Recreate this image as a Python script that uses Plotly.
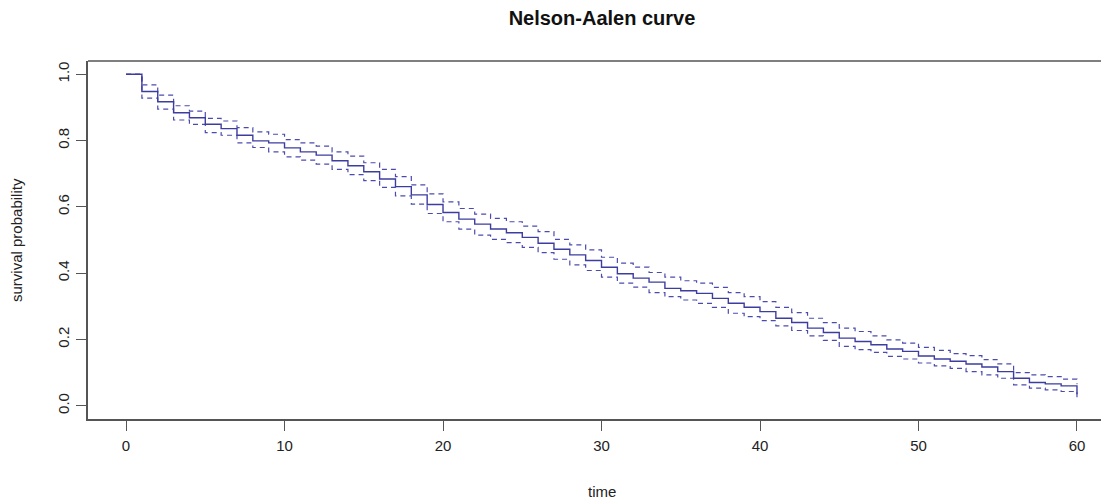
import plotly.graph_objects as go

# ---- data ----
times = list(range(0, 61))

surv = [1.000, 0.948, 0.917, 0.884, 0.869, 0.849, 0.836, 0.816, 0.799, 0.793,
        0.778, 0.766, 0.756, 0.739, 0.724, 0.706, 0.684, 0.661, 0.636, 0.607,
        0.583, 0.563, 0.548, 0.533, 0.522, 0.508, 0.490, 0.472, 0.455, 0.438,
        0.418, 0.398, 0.385, 0.373, 0.354, 0.347, 0.339, 0.324, 0.309, 0.297,
        0.284, 0.264, 0.251, 0.234, 0.221, 0.204, 0.194, 0.184, 0.171, 0.164,
        0.150, 0.141, 0.134, 0.126, 0.117, 0.103, 0.083, 0.070, 0.066, 0.060,
        0.035]

upper = [1.000, 0.968, 0.937, 0.905, 0.889, 0.867, 0.859, 0.839, 0.826, 0.819,
         0.803, 0.793, 0.783, 0.766, 0.753, 0.733, 0.713, 0.691, 0.666, 0.639,
         0.615, 0.595, 0.578, 0.565, 0.555, 0.542, 0.525, 0.502, 0.485, 0.470,
         0.448, 0.430, 0.418, 0.402, 0.388, 0.377, 0.370, 0.357, 0.341, 0.329,
         0.314, 0.297, 0.281, 0.264, 0.251, 0.234, 0.224, 0.211, 0.199, 0.189,
         0.176, 0.167, 0.157, 0.151, 0.139, 0.126, 0.100, 0.093, 0.088, 0.080,
         0.065]

lower = [1.000, 0.928, 0.895, 0.862, 0.849, 0.824, 0.816, 0.793, 0.779, 0.766,
         0.751, 0.741, 0.729, 0.713, 0.697, 0.679, 0.659, 0.633, 0.608, 0.580,
         0.555, 0.533, 0.515, 0.502, 0.492, 0.478, 0.462, 0.442, 0.425, 0.408,
         0.388, 0.370, 0.358, 0.341, 0.329, 0.319, 0.309, 0.297, 0.279, 0.269,
         0.257, 0.241, 0.227, 0.211, 0.197, 0.179, 0.169, 0.161, 0.149, 0.141,
         0.129, 0.120, 0.113, 0.103, 0.093, 0.083, 0.063, 0.053, 0.048, 0.043,
         0.018]

x_ticks = [0, 10, 20, 30, 40, 50, 60]
y_ticks = [0.0, 0.2, 0.4, 0.6, 0.8, 1.0]
y_ticktext = ["0.0", "0.2", "0.4", "0.6", "0.8", "1.0"]

title_text = "Nelson-Aalen curve"
x_title = "time"
y_title = "survival probability"

# ---- styling ----
FONT = "Liberation Sans, Arial, Helvetica, sans-serif"
LINE_COL = "#3d3da0"
BAND_COL = "#4b4bae"
AXIS_COL = "#555555"
TEXT_COL = "#222222"

# the page body has an 8px margin, so the figure is 8px smaller than the window
W, H = 1101, 496

fig = go.Figure()
fig.add_trace(go.Scatter(x=times, y=upper, mode="lines", line_shape="hv",
                         line=dict(color=BAND_COL, width=1.2, dash="5px,4px"),
                         hoverinfo="skip", showlegend=False))
fig.add_trace(go.Scatter(x=times, y=lower, mode="lines", line_shape="hv",
                         line=dict(color=BAND_COL, width=1.2, dash="5px,4px"),
                         hoverinfo="skip", showlegend=False))
fig.add_trace(go.Scatter(x=times, y=surv, mode="lines", line_shape="hv",
                         line=dict(color=LINE_COL, width=1.4),
                         showlegend=False))

fig.update_layout(
    width=W, height=H,
    margin=dict(l=80, r=0, t=53, b=85),
    paper_bgcolor="white", plot_bgcolor="white",
    font=dict(family=FONT, color=TEXT_COL, size=15),
    title=dict(text="<b>" + title_text + "</b>", x=594 / W, xref="container",
               xanchor="center", y=1 - 10 / H, yref="container", yanchor="middle",
               font=dict(family=FONT, size=20, color="#111111")),
    xaxis=dict(range=[-2.4, 62.02], tickvals=x_ticks, ticks="outside", ticklen=10,
               tickcolor=AXIS_COL, tickwidth=1.2, showline=True, linecolor=AXIS_COL,
               linewidth=1.5, showgrid=False, zeroline=False,
               tickfont=dict(size=15, color=TEXT_COL), ticklabelstandoff=2),
    yaxis=dict(range=[-0.04, 1.04], tickvals=y_ticks, ticktext=y_ticktext,
               ticks="outside", ticklen=10, tickcolor=AXIS_COL, tickwidth=1.2,
               showline=True, linecolor=AXIS_COL, linewidth=1.5, showgrid=False,
               zeroline=False, tickangle=-90,
               tickfont=dict(size=15, color=TEXT_COL), ticklabelstandoff=1),
    shapes=[dict(type="line", xref="paper", yref="paper", x0=0, x1=1, y0=1, y1=1,
                 line=dict(color=AXIS_COL, width=1.5))],
    annotations=[
        dict(text=x_title, xref="x", x=30, yref="paper", y=0, yanchor="middle",
             yshift=-72, showarrow=False, font=dict(size=15, color=TEXT_COL)),
        dict(text=y_title, xref="paper", x=0, xanchor="center", xshift=-72,
             yref="paper", y=0.5, yanchor="middle", textangle=-90,
             showarrow=False, font=dict(size=15, color=TEXT_COL)),
    ],
)

fig.write_html("out.html")
